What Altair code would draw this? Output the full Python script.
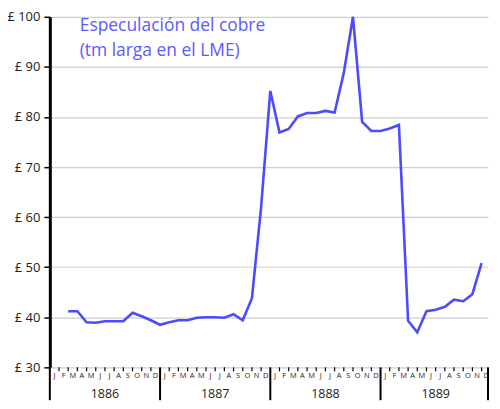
import altair as alt
import pandas as pd

# ---- data ----
years = [1886, 1887, 1888, 1889]
month_letters = ["J", "F", "M", "A", "M", "J", "J", "A", "S", "O", "N", "D"]

# monthly series, Mar 1886 .. Dec 1889
dates = (
    [f"1886-{m:02d}" for m in range(3, 13)]
    + [f"1887-{m:02d}" for m in range(1, 13)]
    + [f"1888-{m:02d}" for m in range(1, 13)]
    + [f"1889-{m:02d}" for m in range(1, 13)]
)
values = [
    41.2, 41.2, 39.0, 38.9, 39.2, 39.2, 39.2, 40.9, 40.2, 39.4,
    38.5, 39.0, 39.4, 39.4, 39.9, 40.0, 40.0, 39.9, 40.6, 39.4, 43.8, 62.0,
    85.2, 76.9, 77.6, 80.1, 80.8, 80.8, 81.2, 80.9, 88.8, 100.0, 79.0, 77.2,
    77.2, 77.7, 78.4, 39.3, 37.0, 41.2, 41.5, 42.1, 43.5, 43.2, 44.6, 50.8,
]
y_ticks = [30, 40, 50, 60, 70, 80, 90, 100]
title_text = ["Especulación del cobre", "(tm larga en el LME)"]

# ---- tables ----
def idx_of(d):
    y, m = d.split("-")
    return (int(y) - years[0]) * 12 + int(m) - 1

series = pd.DataFrame({"idx": [idx_of(d) for d in dates], "value": values})
n_months = len(years) * 12
x_max = 47.7
months = pd.DataFrame({
    "idx": list(range(n_months)),
    "mid": [i + 0.5 for i in range(n_months)],
    "letter": [month_letters[i % 12] for i in range(n_months)],
})
month_ticks = months[months["idx"] % 12 != 0]
year_df = pd.DataFrame({
    "start": [i * 12 for i in range(len(years))],
    "center": [i * 12 + 6 for i in range(len(years))],
    "year": [str(y) for y in years],
})
year_edges = pd.DataFrame({"edge": list(year_df["start"]) + [x_max]})

FONT = "Open Sans"
H = 352
xscale = alt.Scale(domain=[0, x_max], nice=False, zero=False)
yscale = alt.Scale(domain=[30, 100], nice=False, zero=False)

line = alt.Chart(series).mark_line(color="#4b4bff", strokeWidth=2.6).encode(
    x=alt.X("idx:Q", scale=xscale,
            axis=alt.Axis(labels=False, ticks=False, grid=False, title=None,
                          domainColor="black", domainWidth=3)),
    y=alt.Y("value:Q", scale=yscale,
            axis=alt.Axis(values=y_ticks, labelExpr="'£ ' + datum.value",
                          title=None, domainColor="black", domainWidth=3,
                          tickColor="black", tickWidth=1.5, tickSize=6,
                          labelFontSize=13, labelFont=FONT, labelColor="#222",
                          labelPadding=4, grid=True, gridColor="#cfcfcf",
                          gridWidth=1.2)),
)

mticks = alt.Chart(month_ticks).mark_rule(color="black", strokeWidth=1.2).encode(
    x=alt.X("idx:Q", scale=xscale, axis=None),
    y=alt.value(H), y2=alt.value(H + 4),
)

mlabels = alt.Chart(months).mark_text(fontSize=7.5, font=FONT, color="#222",
                                      baseline="middle").encode(
    x=alt.X("mid:Q", scale=xscale, axis=None),
    y=alt.value(H + 9),
    text="letter:N",
)

ysep = alt.Chart(year_edges).mark_rule(color="black", strokeWidth=2).encode(
    x=alt.X("edge:Q", scale=xscale, axis=None),
    y=alt.value(H), y2=alt.value(H + 33),
)

ylabels = alt.Chart(year_df).mark_text(fontSize=12.5, font=FONT, color="#222",
                                       baseline="middle").encode(
    x=alt.X("center:Q", scale=xscale, axis=None),
    y=alt.value(H + 27),
    text="year:N",
)

title = alt.Chart(pd.DataFrame({"t": [title_text]})).mark_text(
    fontSize=17.5, font=FONT, color="#5a5aff", align="left", baseline="top",
    lineHeight=25,
).encode(x=alt.value(30), y=alt.value(0), text="t")

chart = alt.layer(line, mticks, mlabels, ysep, ylabels, title).properties(
    width=440, height=H,
    autosize=alt.AutoSizeParams(type="none"),
    padding={"left": 42, "top": 8, "right": 4, "bottom": 40},
).configure_view(stroke=None)

chart.save("out.html", embed_options={"renderer": "svg", "actions": False})
